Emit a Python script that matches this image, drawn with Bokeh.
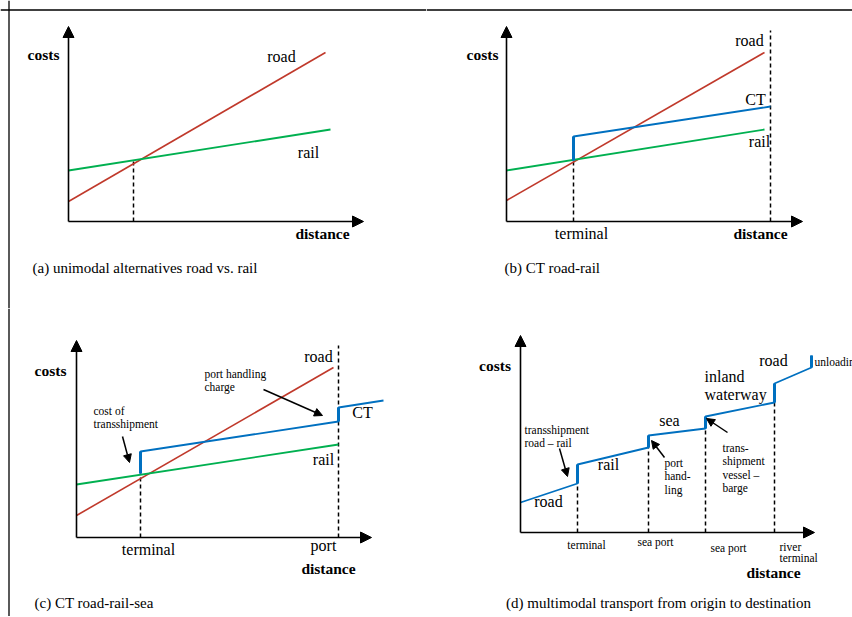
from bokeh.plotting import figure
from bokeh.layouts import gridplot
from bokeh.models import Range1d, Arrow, NormalHead, Span
from bokeh.core.properties import value
from bokeh.embed import file_html
from bokeh.resources import INLINE

RED = "#C0392B"
GREEN = "#00B050"
BLUE = "#0070C0"
SERIF = "Liberation Serif"

# ---------------- data (distance / cost units, origin at axes corner) -------------
# (a) unimodal alternatives
a_road_dist = [0, 257]
a_road_cost = [20, 169]
a_rail_dist = [0, 262]
a_rail_cost = [51, 92]
a_breakeven_dist = [65]
a_breakeven_cost = [61]

# (b) CT road-rail
b_road_dist = [0, 258]
b_road_cost = [21, 169]
b_rail_dist = [0, 258]
b_rail_cost = [51, 92]
b_ct_dist = [67, 67, 264]
b_ct_cost = [61, 85, 115]
b_stop_dist = [67, 264]
b_stop_cost = [61, 191]

# (c) CT road-rail-sea
c_road_dist = [0, 257]
c_road_cost = [22, 170]
c_rail_dist = [0, 262]
c_rail_cost = [53, 93]
c_ct_dist = [64, 64, 262, 262, 307]
c_ct_cost = [64, 86, 116, 130, 137]
c_stop_dist = [64, 262]
c_stop_cost = [64, 192]

# (d) multimodal transport
d_chain_dist = [0, 57, 57, 128, 128, 185, 185, 254, 254, 291, 291]
d_chain_cost = [30, 49, 68, 85, 97, 104, 116, 130, 149, 165, 177]
d_stop_dist = [57, 128, 185, 254]

captions = ["(a) unimodal alternatives road vs. rail",
            "(b) CT road-rail",
            "(c) CT road-rail-sea",
            "(d) multimodal transport from origin to destination"]
d_stop_labels = ["terminal", "sea port", "sea port", "river\nterminal"]

W = 426
H = 308


def panel(xr, yr):
    p = figure(width=W, height=H, x_range=Range1d(*xr), y_range=Range1d(*yr),
               output_backend="svg", toolbar_location=None, tools="", min_border=0,
               x_axis_location=None, y_axis_location=None,
               background_fill_color="white", border_fill_color="white",
               outline_line_color=None)
    p.grid.visible = False
    return p


def axes(p, xtip, ytip):
    for xe, ye in ((xtip, 0), (0, ytip)):
        p.add_layout(Arrow(end=NormalHead(size=11, fill_color="black", line_color="black", line_width=1),
                           x_start=0, y_start=0, x_end=xe, y_end=ye,
                           line_color="black", line_width=1.6))


def note_arrow(p, x0, y0, x1, y1):
    p.add_layout(Arrow(end=NormalHead(size=8, fill_color="black", line_color="black", line_width=1),
                       x_start=x0, y_start=y0, x_end=x1, y_end=y1,
                       line_color="black", line_width=1.5))


def txt(p, items, size="16px", align="center", bold=False, step=None):
    xs, ys, ts = [], [], []
    for t, x, y in items:
        lines = t.split("\n")
        for i, ln in enumerate(lines):
            xs.append(x)
            ys.append(y - i * (step if step else 0))
            ts.append(ln)
    p.text(x=xs, y=ys, text=ts, text_font=value(SERIF), text_font_size=size,
           text_align=align, text_baseline="middle", text_color="black",
           text_font_style="bold" if bold else "normal")


def dashed(p, xs, tops):
    p.segment(x0=xs, y0=[0] * len(xs), x1=xs, y1=tops, line_color="black",
              line_width=1.5, line_dash="4 3")


def chain(p, xs, ys):
    p.line(xs, ys, line_color=BLUE, line_width=1.8)
    jx = [xs[i] for i in range(len(xs) - 1) if xs[i] == xs[i + 1]]
    j0 = [ys[i] for i in range(len(xs) - 1) if xs[i] == xs[i + 1]]
    j1 = [ys[i + 1] for i in range(len(xs) - 1) if xs[i] == xs[i + 1]]
    p.segment(x0=jx, y0=j0, x1=jx, y1=j1, line_color=BLUE, line_width=3)


def border(p, loc, dim):
    p.add_layout(Span(location=loc, dimension=dim, line_color="black", line_width=1.3))


# ---------------- (a) ----------------
pa = panel((-68, 358), (-87, 221))
border(pa, -59.5, "height")
border(pa, 211.5, "width")
dashed(pa, a_breakeven_dist, a_breakeven_cost)
pa.line(a_road_dist, a_road_cost, line_color=RED, line_width=1.6)
pa.line(a_rail_dist, a_rail_cost, line_color=GREEN, line_width=1.8)
axes(pa, 295, 195)
txt(pa, [("costs", -25, 167), ("distance", 254, -12)], size="15.5px", bold=True)
txt(pa, [("road", 213, 165), ("rail", 240, 69)])
txt(pa, [(captions[0], -36, -46)], size="15px", align="left")

# ---------------- (b) ----------------
pb = panel((-80, 346), (-87, 221))
border(pb, 211.5, "width")
dashed(pb, b_stop_dist, b_stop_cost)
pb.line(b_road_dist, b_road_cost, line_color=RED, line_width=1.6)
pb.line(b_rail_dist, b_rail_cost, line_color=GREEN, line_width=1.8)
chain(pb, b_ct_dist, b_ct_cost)
axes(pb, 296, 195)
txt(pb, [("costs", -24, 167), ("distance", 254, -12)], size="15.5px", bold=True)
txt(pb, [("road", 243, 181), ("CT", 249, 122), ("rail", 253, 80), ("terminal", 75, -12)])
txt(pb, [(captions[1], -2, -46)], size="15px", align="left")

# ---------------- (c) ----------------
pc = panel((-76, 350), (-79, 229))
border(pc, -67.5, "height")
dashed(pc, c_stop_dist, c_stop_cost)
pc.line(c_road_dist, c_road_cost, line_color=RED, line_width=1.6)
pc.line(c_rail_dist, c_rail_cost, line_color=GREEN, line_width=1.8)
chain(pc, c_ct_dist, c_ct_cost)
axes(pc, 295, 197)
note_arrow(pc, 187, 148, 246, 122)
note_arrow(pc, 46, 101, 53, 75)
txt(pc, [("costs", -26, 167), ("distance", 252, -31)], size="15.5px", bold=True)
txt(pc, [("road", 242, 181), ("CT", 286, 125), ("rail", 247, 78),
         ("terminal", 72, -12), ("port", 247, -8)])
txt(pc, [("port handling\ncharge", 128, 164), ("cost of\ntransshipment", 17, 127)],
    size="11.5px", align="left", step=13.5)
txt(pc, [(captions[2], -42, -65)], size="15px", align="left")

# ---------------- (d) ----------------
pd_ = panel((-94, 332), (-84, 224))
tops = [min(c for x, c in zip(d_chain_dist, d_chain_cost) if x == s) for s in d_stop_dist]
dashed(pd_, d_stop_dist, tops)
chain(pd_, d_chain_dist, d_chain_cost)
axes(pd_, 294, 197)
note_arrow(pd_, 39, 84, 47, 56)
note_arrow(pd_, 144, 75, 131, 92)
note_arrow(pd_, 207, 100, 186, 114)
txt(pd_, [("costs", -25.5, 167), ("distance", 253, -40)], size="15.5px", bold=True)
txt(pd_, [("road", 28, 31), ("rail", 88, 68), ("sea", 149, 112), ("road", 253, 172)])
txt(pd_, [("inland\nwaterway", 184, 156)], align="left", step=18)
txt(pd_, [("transshipment\nroad \u2013 rail", 4, 103), ("port\nhand-\nling", 144, 70),
          ("trans-\nshipment\nvessel \u2013\nbarge", 202, 85), ("unloading", 294, 171)],
    size="11.5px", align="left", step=13.5)
txt(pd_, [(d_stop_labels[0], 66, -12), (d_stop_labels[1], 135, -9), (d_stop_labels[2], 208, -15)],
    size="11.5px")
txt(pd_, [(d_stop_labels[3], 259, -14)], size="11.5px", align="left", step=11.5)
txt(pd_, [(captions[3], 138, -70)], size="15px")

grid = gridplot([[pa, pb], [pc, pd_]], toolbar_location=None)

open("out.html", "w").write(file_html(grid, INLINE))
